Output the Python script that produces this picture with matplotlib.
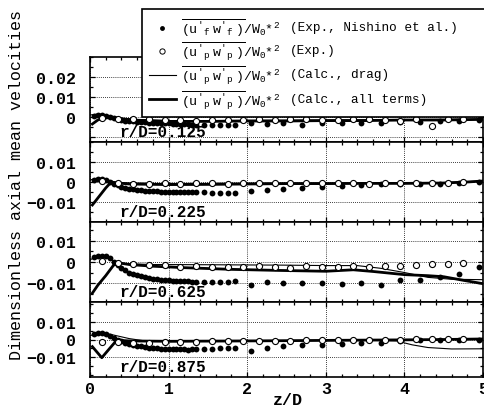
import matplotlib.pyplot as plt
from matplotlib.ticker import MultipleLocator
from matplotlib.lines import Line2D

plt.rcParams['font.family'] = ['Liberation Mono', 'DejaVu Sans']
plt.rcParams['mathtext.fontset'] = 'custom'
plt.rcParams['mathtext.rm'] = 'Liberation Mono'
plt.rcParams['mathtext.it'] = 'Liberation Mono'
plt.rcParams['mathtext.bf'] = 'Liberation Mono:bold'

# 实验点的 z/D 位置
z_f = [0.05, 0.10, 0.15, 0.20, 0.25, 0.30, 0.35, 0.40, 0.45, 0.50, 0.55, 0.60, 0.65, 0.70,
       0.75, 0.80, 0.85, 0.90, 0.95, 1.00, 1.05, 1.10, 1.15, 1.20, 1.25, 1.30, 1.35,
       1.45, 1.55, 1.65, 1.75, 1.85,
       2.05, 2.25, 2.45, 2.70, 2.95, 3.20, 3.45, 3.70, 3.95, 4.20, 4.45, 4.70, 4.95]
z_p = [0.15, 0.35, 0.55, 0.75, 0.95, 1.15, 1.35, 1.55, 1.75, 1.95, 2.15, 2.35,
       2.55, 2.75, 2.95, 3.15, 3.35, 3.55, 3.75, 3.95, 4.15, 4.35, 4.55, 4.75]

# r/D = 0.125
fluid_125 = [0.0005, 0.0010, 0.0010, 0.0005, 0.0000, -0.0005, -0.0010, -0.0015, -0.0018, -0.0020,
             -0.0022, -0.0024, -0.0026, -0.0027, -0.0028, -0.0029, -0.0030, -0.0030, -0.0031,
             -0.0032, -0.0033, -0.0034, -0.0035, -0.0036, -0.0037, -0.0038, -0.0039,
             -0.0040, -0.0041, -0.0042, -0.0040, -0.0038,
             -0.0030, -0.0035, -0.0030, -0.0038, -0.0028, -0.0030, -0.0028, -0.0028, -0.0025,
             -0.0027, -0.0022, -0.0018, -0.0015]
part_125 = [-0.0005, -0.0010, -0.0012, -0.0012, -0.0015, -0.0015, -0.0018, -0.0015, -0.0015,
            -0.0015, -0.0012, -0.0015, -0.0008, -0.0012, -0.0015, -0.0015, -0.0012, -0.0008,
            -0.0015, -0.0018, -0.0012, -0.0045, -0.0012, -0.0008]
zd_125 = [0.0, 0.1, 0.2, 0.4, 0.6, 1.0, 1.5, 2.0, 2.5, 3.0, 3.5, 4.0, 4.5, 5.0]
drag_125 = [0.0010, 0.0015, 0.0010, -0.0005, -0.0012, -0.0018, -0.0018, -0.0017, -0.0016,
            -0.0015, -0.0014, -0.0013, -0.0012, -0.0010]
za_125 = [0.03, 0.1, 0.2, 0.3, 0.5, 0.8, 1.0, 1.5, 2.0, 2.5, 3.0, 3.5, 4.0, 4.5, 5.0]
all_125 = [-0.0035, -0.0015, 0.0000, -0.0005, -0.0015, -0.0020, -0.0022, -0.0022, -0.0020,
           -0.0020, -0.0018, -0.0018, -0.0015, -0.0015, -0.0012]

# r/D = 0.225
fluid_225 = [0.0010, 0.0015, 0.0015, 0.0010, 0.0002, -0.0008, -0.0016, -0.0023, -0.0028, -0.0033,
             -0.0036, -0.0039, -0.0041, -0.0043, -0.0045, -0.0046, -0.0047, -0.0048, -0.0048,
             -0.0049, -0.0049, -0.0050, -0.0050, -0.0050, -0.0050, -0.0050, -0.0051,
             -0.0052, -0.0053, -0.0055, -0.0056, -0.0055,
             -0.0047, -0.0040, -0.0035, -0.0031, -0.0027, -0.0022, -0.0014, -0.0012, -0.0010,
             -0.0010, -0.0008, -0.0005, -0.0002]
part_225 = [0.0005, -0.0003, -0.0008, -0.0008, -0.0005, -0.0008, -0.0005, -0.0005, -0.0010,
            -0.0005, -0.0003, -0.0005, -0.0003, -0.0005, -0.0005, -0.0003, -0.0003, -0.0008,
            -0.0005, -0.0003, -0.0005, -0.0005, -0.0003, 0.0000]
zd_225 = [0.0, 0.1, 0.2, 0.3, 0.5, 1.0, 2.0, 3.0, 4.0, 4.5, 5.0]
drag_225 = [0.0010, 0.0020, 0.0015, 0.0000, -0.0005, -0.0008, -0.0006, -0.0005, -0.0005,
            -0.0003, 0.0005]
za_225 = [0.03, 0.1, 0.2, 0.27, 0.35, 0.5, 1.0, 1.5, 2.0, 2.5, 3.0, 3.5, 4.0, 4.5, 4.8, 5.0]
all_225 = [-0.0115, -0.0080, -0.0030, 0.0000, -0.0005, -0.0010, -0.0013, -0.0012, -0.0010,
           -0.0008, -0.0008, -0.0007, -0.0007, -0.0005, 0.0000, 0.0005]

# r/D = 0.625
fluid_625 = [0.0025, 0.0030, 0.0030, 0.0027, 0.0020, 0.0000, -0.0015, -0.0030, -0.0040, -0.0050,
             -0.0057, -0.0063, -0.0068, -0.0072, -0.0076, -0.0080, -0.0082, -0.0084, -0.0085,
             -0.0087, -0.0088, -0.0089, -0.0090, -0.0091, -0.0092, -0.0093, -0.0093,
             -0.0094, -0.0095, -0.0095, -0.0094, -0.0088,
             -0.0110, -0.0097, -0.0100, -0.0100, -0.0100, -0.0105, -0.0100, -0.0108, -0.0087,
             -0.0087, -0.0071, -0.0056, -0.0025]
part_625 = [0.0003, -0.0005, -0.0010, -0.0012, -0.0015, -0.0022, -0.0020, -0.0022, -0.0023,
            -0.0022, -0.0020, -0.0025, -0.0028, -0.0018, -0.0024, -0.0024, -0.0020, -0.0025,
            -0.0020, -0.0020, -0.0016, -0.0010, -0.0008, -0.0005]
zd_625 = [0.0, 0.1, 0.2, 0.3, 0.45, 0.8, 1.5, 2.5, 3.0, 3.4, 3.7, 4.0, 4.3, 4.6, 5.0]
drag_625 = [0.0010, 0.0030, 0.0025, 0.0005, -0.0008, -0.0012, -0.0013, -0.0015, -0.0017,
            -0.0017, -0.0030, -0.0050, -0.0073, -0.0082, -0.0084]
za_625 = [0.03, 0.1, 0.2, 0.3, 0.38, 0.5, 0.8, 1.2, 1.8, 2.4, 3.0, 3.35, 3.6, 4.0, 4.3, 4.5,
          4.75, 5.0]
all_625 = [-0.0148, -0.0110, -0.0065, -0.0015, -0.0005, -0.0012, -0.0020, -0.0027, -0.0035,
           -0.0040, -0.0044, -0.0037, -0.0045, -0.0060, -0.0065, -0.0070, -0.0087, -0.0103]

# r/D = 0.875
fluid_875 = [0.0030, 0.0038, 0.0035, 0.0030, 0.0020, 0.0008, 0.0000, -0.0008, -0.0017, -0.0024,
             -0.0030, -0.0035, -0.0039, -0.0042, -0.0045, -0.0047, -0.0049, -0.0051, -0.0052,
             -0.0053, -0.0054, -0.0055, -0.0055, -0.0055, -0.0056, -0.0055, -0.0055,
             -0.0054, -0.0052, -0.0050, -0.0048, -0.0046,
             -0.0062, -0.0046, -0.0037, -0.0031, -0.0028, -0.0026, -0.0022, -0.0017, -0.0009,
             -0.0004, 0.0000, 0.0000, 0.0000]
part_875 = [-0.0015, -0.0015, -0.0018, -0.0020, -0.0015, -0.0012, -0.0012, -0.0010, -0.0010,
            -0.0008, -0.0008, -0.0008, -0.0008, -0.0005, -0.0005, -0.0005, -0.0003, 0.0000,
            -0.0003, 0.0000, 0.0005, 0.0005, 0.0003, 0.0005]
zd_875 = [0.0, 0.1, 0.2, 0.35, 0.5, 0.7, 1.0, 2.0, 3.0, 3.6, 3.9, 4.1, 4.3, 4.6, 5.0]
drag_875 = [0.0020, 0.0040, 0.0035, 0.0020, 0.0005, -0.0008, -0.0012, -0.0008, -0.0005,
            -0.0005, -0.0008, -0.0030, -0.0045, -0.0053, -0.0052]
za_875 = [0.03, 0.15, 0.25, 0.34, 0.5, 1.0, 2.0, 3.0, 4.0, 4.5, 5.0]
all_875 = [-0.0040, -0.0102, -0.0050, -0.0004, -0.0008, -0.0010, -0.0008, -0.0005, -0.0002,
           0.0000, 0.0003]

r_labels = ['r/D=0.125', 'r/D=0.225', 'r/D=0.625', 'r/D=0.875']
fluid = [fluid_125, fluid_225, fluid_625, fluid_875]
part = [part_125, part_225, part_625, part_875]
zd = [zd_125, zd_225, zd_625, zd_875]
drag = [drag_125, drag_225, drag_625, drag_875]
za = [za_125, za_225, za_625, za_875]
allt = [all_125, all_225, all_625, all_875]

x_labels = ['0', '1', '2', '3', '4', '5']
legend_desc = ['(Exp., Nishino et al.)', '(Exp.)', '(Calc., drag)', '(Calc., all terms)']

W, H = 485, 410
fig = plt.figure(figsize=(W / 100, H / 100), dpi=100)

# 每个子图的像素范围 (上, 下)
rows = [(58, 143), (143, 223), (223, 303), (303, 378)]
ylims = [(-0.0125, 0.03), (-0.02, 0.02), (-0.019, 0.019), (-0.021, 0.021)]

for i in range(4):
    top, bot = rows[i]
    ax = fig.add_axes([90 / W, 1 - bot / H, 393 / W, (bot - top) / H])
    ax.plot(z_f, fluid[i], 'o', color='k', ms=4.2, mew=0, zorder=3)
    ax.plot(z_p, part[i], 'o', mfc='white', mec='k', ms=4.4, mew=0.8, zorder=3)
    ax.plot(zd[i], drag[i], color='k', lw=0.8, zorder=2)
    ax.plot(za[i], allt[i], color='k', lw=2.0, zorder=2)

    ax.set_xlim(0, 5)
    ax.set_ylim(*ylims[i])
    if i == 0:
        ax.set_yticks([-0.01, 0, 0.01, 0.02])
        ax.set_yticklabels(['', '0', '0.01', '0.02'])
    else:
        ax.set_yticks([-0.01, 0, 0.01])
        ax.set_yticklabels(['\u22120.01', '0', '0.01'])
    ax.set_xticks(range(6))
    ax.xaxis.set_minor_locator(MultipleLocator(0.2))
    ax.yaxis.set_minor_locator(MultipleLocator(0.005))
    ax.tick_params(which='both', direction='in', top=True, right=True, width=0.9)
    ax.tick_params(which='major', length=3.6)
    ax.tick_params(which='minor', length=2.2)
    ax.tick_params(axis='y', pad=10, labelsize=12)
    for lab in ax.get_yticklabels():
        lab.set_fontweight('bold')
    if i == 3:
        ax.set_xticklabels(x_labels, fontsize=12, fontweight='bold')
        ax.tick_params(axis='x', pad=3)
    else:
        ax.tick_params(axis='x', labelbottom=False)
    ax.grid(True, which='major', color='k', lw=0.6, linestyle=(0, (1, 1.5)))
    for s in ax.spines.values():
        s.set_linewidth(1.2)
    ax.text(0.38, 10 / (bot - top), r_labels[i], transform=ax.get_xaxis_transform(),
            fontsize=11.5, fontweight='bold', va='center', ha='left', zorder=5)

fig.text(288 / W, 1 - 401 / H, 'z/D', ha='center', va='center', fontsize=12,
         fontweight='bold')
fig.text(17 / W, 1 - 185 / H, 'Dimensionless axial mean velocities', rotation=90,
         ha='center', va='center', fontsize=12)

handles = [Line2D([], [], ls='none', marker='o', color='k', ms=3.5, mew=0),
           Line2D([], [], ls='none', marker='o', mfc='white', mec='k', ms=3.8, mew=0.7),
           Line2D([], [], color='k', lw=0.8),
           Line2D([], [], color='k', lw=2.0)]
labels = [r"$\overline{(u'_{f}\ w'_{f}\ )}/W_{0}{*}^{2}$",
          r"$\overline{(u'_{p}\ w'_{p}\ )}/W_{0}{*}^{2}$",
          r"$\overline{(u'_{p}\ w'_{p}\ )}/W_{0}{*}^{2}$",
          r"$\overline{(u'_{p}\ w'_{p}\ )}/W_{0}{*}^{2}$"]
leg = fig.legend(handles, labels, loc='upper left', mode='expand',
                 bbox_to_anchor=(142 / W, 1 - 117 / H, 343 / W, 107 / H),
                 fontsize=9.5, handlelength=2.0, handletextpad=0.4, borderpad=0.55,
                 labelspacing=0.2, borderaxespad=0, fancybox=False, framealpha=1,
                 edgecolor='k')
leg.get_frame().set_linewidth(1.2)
leg.set_zorder(6)

# 说明文字与图例每一行对齐
fig.canvas.draw()
for t, desc in zip(leg.get_texts(), legend_desc):
    bb = t.get_window_extent()
    fig.text(290 / W, (bb.y0 + bb.y1) / 2 / H, desc, fontsize=9.2, va='center', zorder=7)

fig.savefig('out.png', dpi=100)
